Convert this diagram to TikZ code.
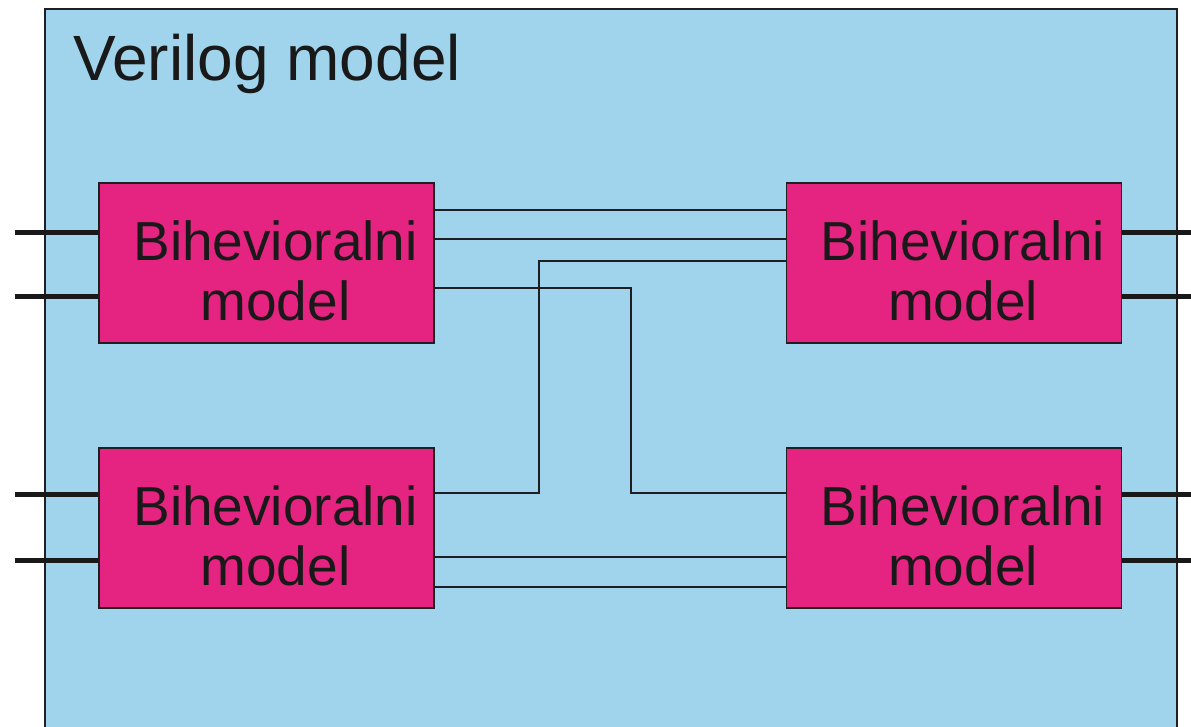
\documentclass[tikz,border=0pt]{standalone}
\usepackage{fontspec}
\setmainfont{Liberation Sans}
\definecolor{bgblue}{RGB}{160,212,236}
\definecolor{boxmag}{RGB}{229,35,129}
\definecolor{linecol}{RGB}{30,30,35}
\begin{document}
\begin{tikzpicture}[x=1pt,y=-1pt,
  behbox/.style={draw=linecol,line width=1.8pt,fill=boxmag,minimum width=335pt,minimum height=160pt,inner sep=0pt},
  behtext/.style={align=center,font=\fontsize{55}{60}\selectfont,text=black!90},
  wire/.style={draw=linecol,line width=2pt},
  port/.style={draw=black!90,line width=5pt}]
\useasboundingbox (0,0) rectangle (1191,726);
\clip (0,0) rectangle (1191,726);
\fill[white] (0,0) rectangle (1191,726);
% outer frame
\fill[bgblue] (45,9) rectangle (1177,740);
\draw[linecol,line width=2pt] (45,740) -- (45,9) -- (1177,9) -- (1177,740);
\node[anchor=base west,font=\fontsize{64}{70}\selectfont,text=black!90,inner sep=0pt] (title) at (73,80) {Verilog model};
% boxes
\node[behbox] (tl) at (266.5,263) {};
\node[behbox] (tr) at (954,263) {};
\node[behbox] (bl) at (266.5,528) {};
\node[behbox] (br) at (954,528) {};
\foreach \b/\dx in {tl/9,tr/9,bl/9,br/9}{
  \node[behtext] at ([xshift=\dx pt,yshift=-8pt]\b.center) {Bihevioralni\\model};
}
% port coordinates
\coordinate (l1) at (15,232); \coordinate (l2) at (15,296);
\coordinate (l3) at (15,494); \coordinate (l4) at (15,560);
\coordinate (r1) at (1191,232); \coordinate (r2) at (1191,296);
\coordinate (r3) at (1191,494); \coordinate (r4) at (1191,560);
% external ports
\draw[port] (l1) -- (tl.west |- l1);
\draw[port] (l2) -- (tl.west |- l2);
\draw[port] (l3) -- (bl.west |- l3);
\draw[port] (l4) -- (bl.west |- l4);
\draw[port] (tr.east |- r1) -- (r1);
\draw[port] (tr.east |- r2) -- (r2);
\draw[port] (br.east |- r3) -- (r3);
\draw[port] (br.east |- r4) -- (r4);
% internal wires
\draw[wire] (tl.east |- 0,210) -- (tr.west |- 0,210);
\draw[wire] (tl.east |- 0,239) -- (tr.west |- 0,239);
\draw[wire] (tr.west |- 0,261) -- (539,261) -- (539,493) -- (bl.east |- 0,493);
\draw[wire] (tl.east |- 0,288) -- (631,288) -- (631,493) -- (br.west |- 0,493);
\draw[wire] (bl.east |- 0,557) -- (br.west |- 0,557);
\draw[wire] (bl.east |- 0,587) -- (br.west |- 0,587);
\end{tikzpicture}
\end{document}
